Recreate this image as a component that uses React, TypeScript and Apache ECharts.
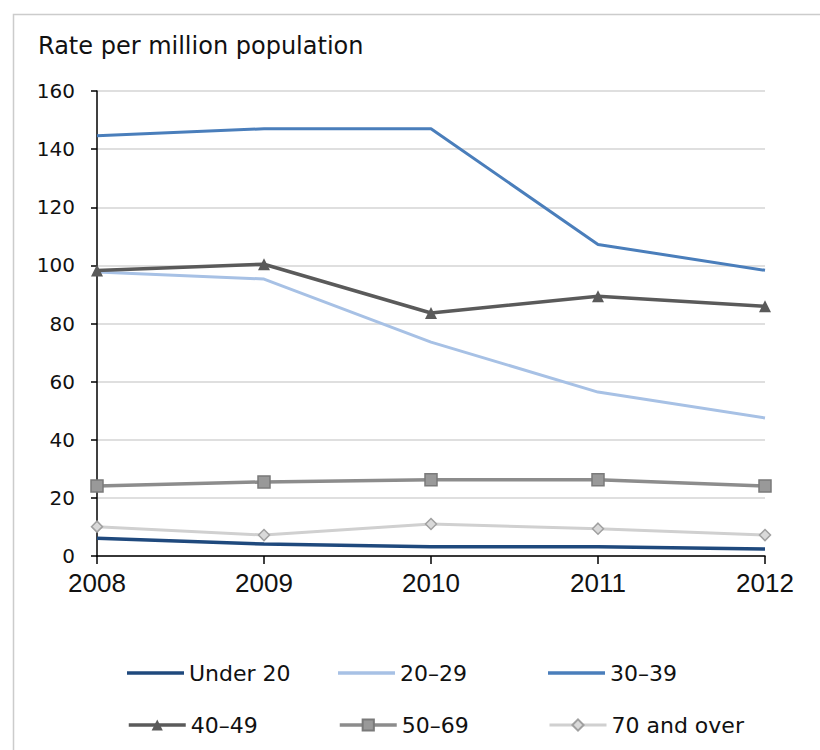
import React, { useEffect, useRef } from "react";
import * as echarts from "echarts";

const years = ["2008", "2009", "2010", "2011", "2012"];
const under20 = [6.1, 4.1, 3.2, 3.2, 2.4];
const age20to29 = [97.7, 95.3, 73.6, 56.4, 47.5];
const age30to39 = [144.6, 147.0, 147.0, 107.2, 98.3];
const age40to49 = [98.2, 100.4, 83.6, 89.4, 85.9];
const age50to69 = [24.1, 25.5, 26.2, 26.2, 24.1];
const age70plus = [10.1, 7.2, 11.0, 9.4, 7.2];

const seriesNames = ["Under 20", "20\u201329", "30\u201339", "40\u201349", "50\u201369", "70 and over"];
const yTicks = { min: 0, max: 160, interval: 20 };

export default function App() {
  const ref = useRef<HTMLDivElement>(null);
  useEffect(() => {
    document.body.style.margin = "0";
    const chart = echarts.init(ref.current!, undefined, { renderer: "svg" });
    const legendCols = [127, 338, 548];
    const legendRows = [662, 714];
    const plain = [true, true, true, false, false, false];
    const legendColors = ["#1f497d", "#a7c1e5", "#4a7ebb"];
    const lineWidths = [3.5, 3, 3, 3.5, 3.5, 3];
    const legends = seriesNames.map((name, i) => ({
      data: plain[i]
        ? [{ name, icon: "rect", itemStyle: { color: legendColors[i] } }]
        : [name],
      left: legendCols[i % 3],
      top: legendRows[Math.floor(i / 3)],
      itemWidth: 57,
      itemHeight: plain[i] ? 3.5 : 14,
      itemGap: 5,
      lineStyle: { width: lineWidths[i] },
      textStyle: { fontFamily: "DejaVu Sans", fontSize: 22, color: "#111", padding: [0, 0, 0, 0] },
      padding: 0,
    }));
    const mk = (name: string, data: number[], color: string, width: number, symbol: string, symbolSize: number, itemStyle?: any) => ({
      name,
      type: "line",
      data,
      symbol,
      symbolSize,
      showSymbol: symbol !== "none",
      lineStyle: { color, width },
      itemStyle: itemStyle || { color },
      z: 3,
    });
    chart.setOption({
      animation: false,
      graphic: [
        {
          type: "rect",
          shape: { x: 13.5, y: 14.5, width: 900, height: 900 },
          style: { fill: "none", stroke: "#cccccc", lineWidth: 1.5 },
          silent: true,
        },
        {
          type: "text",
          left: 38,
          top: 34,
          style: { text: "Rate per million population", fontFamily: "DejaVu Sans", fontSize: 24, fill: "#111" },
        },
      ],
      legend: legends,
      grid: { left: 97, right: 55, top: 91, bottom: 194 },
      xAxis: {
        type: "category",
        data: years,
        boundaryGap: false,
        axisLine: { lineStyle: { color: "#000", width: 1.5 } },
        axisTick: { show: true, length: 8, lineStyle: { color: "#000", width: 1.5 } },
        axisLabel: { fontFamily: "Liberation Sans", fontSize: 26, color: "#111", margin: 14 },
        splitLine: { show: false },
      },
      yAxis: {
        type: "value",
        min: yTicks.min,
        max: yTicks.max,
        interval: yTicks.interval,
        axisLine: { show: true, lineStyle: { color: "#000", width: 1.5 } },
        axisTick: { show: true, length: 6, lineStyle: { color: "#000", width: 1.5 } },
        axisLabel: { fontFamily: "DejaVu Sans", fontSize: 20, color: "#111", margin: 22 },
        splitLine: { show: true, lineStyle: { color: "#d4d4d4", width: 1.5 } },
      },
      series: [
        mk(seriesNames[0], under20, "#1f497d", lineWidths[0], "none", 0),
        mk(seriesNames[1], age20to29, "#a7c1e5", lineWidths[1], "none", 0),
        mk(seriesNames[2], age30to39, "#4a7ebb", lineWidths[2], "none", 0),
        mk(seriesNames[3], age40to49, "#5a5a5a", lineWidths[3], "triangle", 12, { color: "#5a5a5a" }),
        mk(seriesNames[4], age50to69, "#8c8c8c", lineWidths[4], "rect", 12, { color: "#999999", borderColor: "#7a7a7a", borderWidth: 1.5 }),
        mk(seriesNames[5], age70plus, "#d0d0d0", lineWidths[5], "diamond", 11, { color: "#d9d9d9", borderColor: "#a0a0a0", borderWidth: 1.5 }),
      ],
    });
    return () => chart.dispose();
  }, []);
  return <div ref={ref} style={{ width: 820, height: 750 }} />;
}
